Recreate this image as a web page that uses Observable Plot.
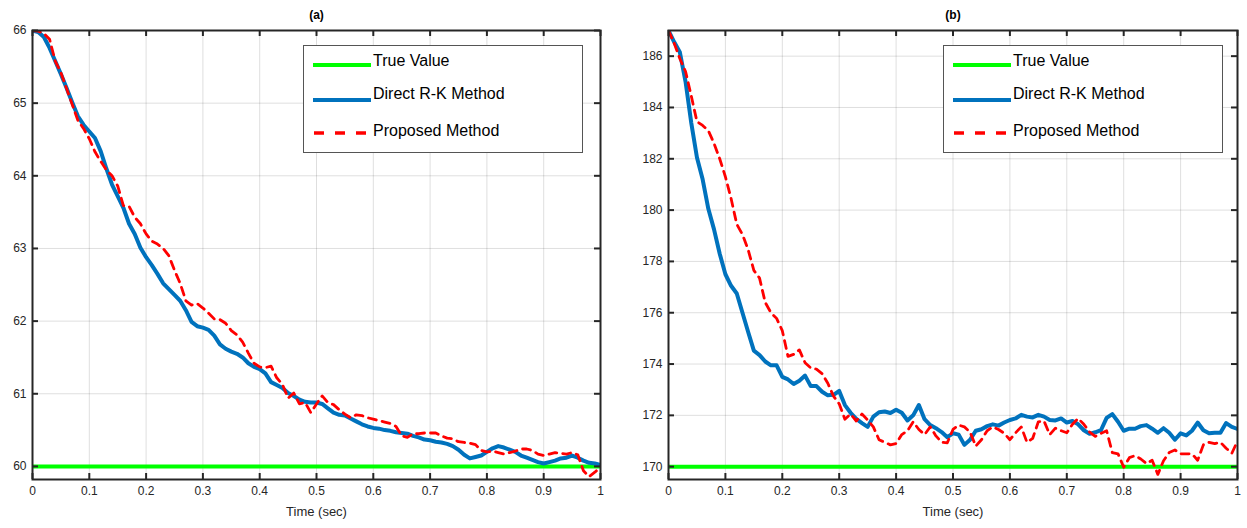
<!DOCTYPE html>
<html><head><meta charset="utf-8">
<script src="https://cdn.jsdelivr.net/npm/d3@7"></script>
<script src="https://cdn.jsdelivr.net/npm/@observablehq/plot@0.6"></script>
<style>
body{margin:0;background:#fff;font-family:"Liberation Sans",Arial,sans-serif}
#chart{position:relative;width:1247px;height:528px;overflow:hidden;background:#fff}
.panel{position:absolute;top:0}
.legend{position:absolute;top:45px;width:280px;height:108px;border:1.5px solid #555;background:#fff;box-sizing:border-box}
.legend .txt{position:absolute;left:69px;font-size:16px;line-height:16px;color:#000;white-space:nowrap}
.legend svg{position:absolute;left:9px}
</style></head><body><div id="chart"></div>
<script>
// ---------- data ----------
const time = Array.from({length: 101}, (_, i) => i / 100);
const xTicks = [0, 0.1, 0.2, 0.3, 0.4, 0.5, 0.6, 0.7, 0.8, 0.9, 1];
const xTickLabels = ["0", "0.1", "0.2", "0.3", "0.4", "0.5", "0.6", "0.7", "0.8", "0.9", "1"];
const xLabel = "Time (sec)";
const seriesNames = ["True Value", "Direct R-K Method", "Proposed Method"];
const seriesColors = ["#00ff00", "#0072bd", "#ff0000"];

// panel (a)
const titleA = "(a)";
const yDomainA = [59.82, 66];
const yTicksA = [60, 61, 62, 63, 64, 65, 66];
const yTickLabelsA = ["60", "61", "62", "63", "64", "65", "66"];
const trueA = 60;
const directA = [66.00,65.98,65.91,65.76,65.58,65.40,65.21,65.01,64.82,64.70,
64.61,64.52,64.34,64.10,63.88,63.72,63.56,63.34,63.20,63.01,
62.88,62.77,62.65,62.52,62.44,62.36,62.28,62.15,61.99,61.93,
61.91,61.88,61.80,61.68,61.62,61.58,61.55,61.50,61.42,61.37,
61.34,61.28,61.16,61.12,61.08,61.01,60.97,60.92,60.89,60.88,
60.88,60.86,60.80,60.74,60.71,60.70,60.66,60.62,60.58,60.55,
60.53,60.52,60.50,60.49,60.47,60.46,60.45,60.42,60.40,60.37,
60.36,60.34,60.33,60.31,60.28,60.23,60.16,60.11,60.13,60.15,
60.20,60.25,60.28,60.26,60.23,60.20,60.15,60.12,60.09,60.06,
60.04,60.06,60.08,60.11,60.12,60.15,60.12,60.08,60.05,60.04,
60.02];
const proposedA = [66.00,65.99,65.96,65.88,65.58,65.42,65.20,64.98,64.76,64.65,
64.51,64.33,64.20,64.08,64.00,63.86,63.59,63.58,63.43,63.34,
63.20,63.10,63.06,63.00,62.90,62.70,62.52,62.28,62.22,62.24,
62.18,62.11,62.03,62.02,61.97,61.87,61.81,61.71,61.56,61.42,
61.37,61.36,61.38,61.22,61.13,60.94,61.01,60.86,60.88,60.74,
60.86,60.97,60.88,60.85,60.78,60.72,60.67,60.71,60.70,60.67,
60.65,60.63,60.61,60.59,60.55,60.42,60.40,60.45,60.45,60.46,
60.46,60.46,60.42,60.39,60.38,60.34,60.33,60.32,60.30,60.22,
60.20,60.21,60.19,60.17,60.19,60.21,60.24,60.24,60.22,60.17,
60.15,60.17,60.19,60.18,60.17,60.19,60.16,59.94,59.86,59.92,
59.99];

// panel (b)
const titleB = "(b)";
const yDomainB = [169.5, 187];
const yTicksB = [170, 172, 174, 176, 178, 180, 182, 184, 186];
const yTickLabelsB = ["170", "172", "174", "176", "178", "180", "182", "184", "186"];
const trueB = 170;
const directB = [187.00,186.55,186.15,185.00,183.40,182.05,181.20,180.05,179.25,178.30,
177.50,177.05,176.75,176.00,175.25,174.52,174.35,174.10,173.95,173.95,
173.50,173.40,173.22,173.35,173.55,173.14,173.14,172.92,172.78,172.80,
172.95,172.40,172.10,171.86,171.70,171.55,171.95,172.12,172.15,172.09,
172.22,172.10,171.80,172.00,172.40,171.85,171.62,171.50,171.35,171.15,
171.30,171.25,170.85,171.05,171.40,171.46,171.58,171.65,171.60,171.72,
171.82,171.88,172.02,171.95,171.92,172.02,171.95,171.82,171.80,171.88,
171.72,171.78,171.65,171.42,171.28,171.34,171.42,171.90,172.05,171.75,
171.40,171.48,171.48,171.58,171.62,171.48,171.32,171.50,171.32,171.05,
171.30,171.22,171.40,171.72,171.42,171.30,171.32,171.32,171.70,171.55,
171.47];
const proposedB = [187.00,186.50,185.90,185.40,184.45,183.45,183.30,183.10,182.60,182.00,
181.30,180.45,179.45,179.05,178.45,177.65,177.35,176.40,176.00,175.78,
175.30,174.30,174.38,174.55,174.05,173.85,173.80,173.62,173.25,172.75,
172.45,171.85,172.05,171.78,172.05,171.82,171.55,171.05,170.95,170.85,
170.90,171.25,171.40,171.75,171.45,171.25,171.55,171.20,170.95,170.93,
171.45,171.62,171.55,171.35,170.80,171.05,171.40,171.55,171.45,171.30,
171.05,171.32,171.55,170.95,171.10,171.75,171.78,171.25,171.50,171.40,
171.32,171.65,171.88,171.65,171.35,171.18,171.30,171.40,170.55,170.50,
169.98,170.35,170.43,170.30,170.12,170.25,169.70,170.23,170.55,170.65,
170.50,170.50,170.50,170.25,170.85,170.95,170.90,170.95,170.72,170.52,
171.00];

// ---------- drawing ----------
const H = 528, MT = 30, MB = 49;
const axisColor = "#262626";

function panel({width, marginLeft, marginRight, yDomain, yTicks, yTickLabels, trueValue, direct, proposed, title}) {
  const innerH = H - MT - MB;
  const innerW = width - marginLeft - marginRight;
  const dDirect = time.map((t, i) => ({t, v: direct[i]}));
  const dProp = time.map((t, i) => ({t, v: proposed[i]}));
  return Plot.plot({
    width, height: H, marginLeft, marginRight, marginTop: MT, marginBottom: MB,
    style: {fontFamily: "'Liberation Sans', Arial, sans-serif", fontSize: "12px", color: axisColor, background: "transparent", overflow: "visible"},
    x: {domain: [0, 1]},
    y: {domain: yDomain},
    marks: [
      Plot.gridX(xTicks, {stroke: "#000", strokeOpacity: 0.13, strokeWidth: 1}),
      Plot.gridY(yTicks, {stroke: "#000", strokeOpacity: 0.13, strokeWidth: 1}),
      Plot.ruleY([trueValue], {stroke: seriesColors[0], strokeWidth: 4, clip: true}),
      Plot.line(dDirect, {x: "t", y: "v", stroke: seriesColors[1], strokeWidth: 4, clip: true}),
      Plot.line(dProp, {x: "t", y: "v", stroke: seriesColors[2], strokeWidth: 2.8, strokeDasharray: "8,6", clip: true}),
      Plot.frame({stroke: axisColor, strokeWidth: 2}),
      Plot.ruleX(xTicks, {x: d => d, stroke: axisColor, strokeWidth: 2, insetTop: innerH - 6}),
      Plot.ruleX(xTicks, {x: d => d, stroke: axisColor, strokeWidth: 2, insetBottom: innerH - 6}),
      Plot.ruleY(yTicks, {y: d => d, stroke: axisColor, strokeWidth: 2, insetRight: innerW - 6}),
      Plot.ruleY(yTicks, {y: d => d, stroke: axisColor, strokeWidth: 2, insetLeft: innerW - 6}),
      Plot.axisX(xTicks, {tickSize: 0, tickPadding: 7, tickFormat: d => xTickLabels[xTicks.indexOf(d)], label: null}),
      Plot.axisY(yTicks, {tickSize: 0, tickPadding: 6, tickFormat: d => yTickLabels[yTicks.indexOf(d)], label: null}),
      Plot.text([xLabel], {frameAnchor: "bottom", dy: 36, fontSize: 13, fill: axisColor}),
      Plot.text([title], {frameAnchor: "top", dy: -20, fontWeight: "bold", fontSize: 12, fill: "#000"})
    ]
  });
}

function legend(left) {
  const box = document.createElement("div");
  box.className = "legend";
  box.style.left = left + "px";
  const swY = [19, 54, 87];
  const txY = [7, 40, 77];
  seriesNames.forEach((name, i) => {
    const svg = d3.create("svg").attr("width", 58).attr("height", 8).style("top", (swY[i] - 4) + "px");
    svg.append("line").attr("x1", i === 2 ? 1 : 0).attr("x2", 58).attr("y1", 4).attr("y2", 4)
      .attr("stroke", seriesColors[i]).attr("stroke-width", i === 2 ? 3.5 : 4)
      .attr("stroke-dasharray", i === 2 ? "10,11" : null);
    box.appendChild(svg.node());
    const t = document.createElement("div");
    t.className = "txt";
    t.style.top = txY[i] + "px";
    t.textContent = name;
    box.appendChild(t);
  });
  return box;
}

const chart = document.getElementById("chart");
const a = panel({width: 620, marginLeft: 32, marginRight: 20, yDomain: yDomainA, yTicks: yTicksA, yTickLabels: yTickLabelsA, trueValue: trueA, direct: directA, proposed: proposedA, title: titleA});
a.classList.add("panel"); a.style.left = "0px";
const b = panel({width: 627, marginLeft: 48, marginRight: 10, yDomain: yDomainB, yTicks: yTicksB, yTickLabels: yTickLabelsB, trueValue: trueB, direct: directB, proposed: proposedB, title: titleB});
b.classList.add("panel"); b.style.left = "620px";
chart.appendChild(a);
chart.appendChild(b);
chart.appendChild(legend(303));
chart.appendChild(legend(943));
</script></body></html>
